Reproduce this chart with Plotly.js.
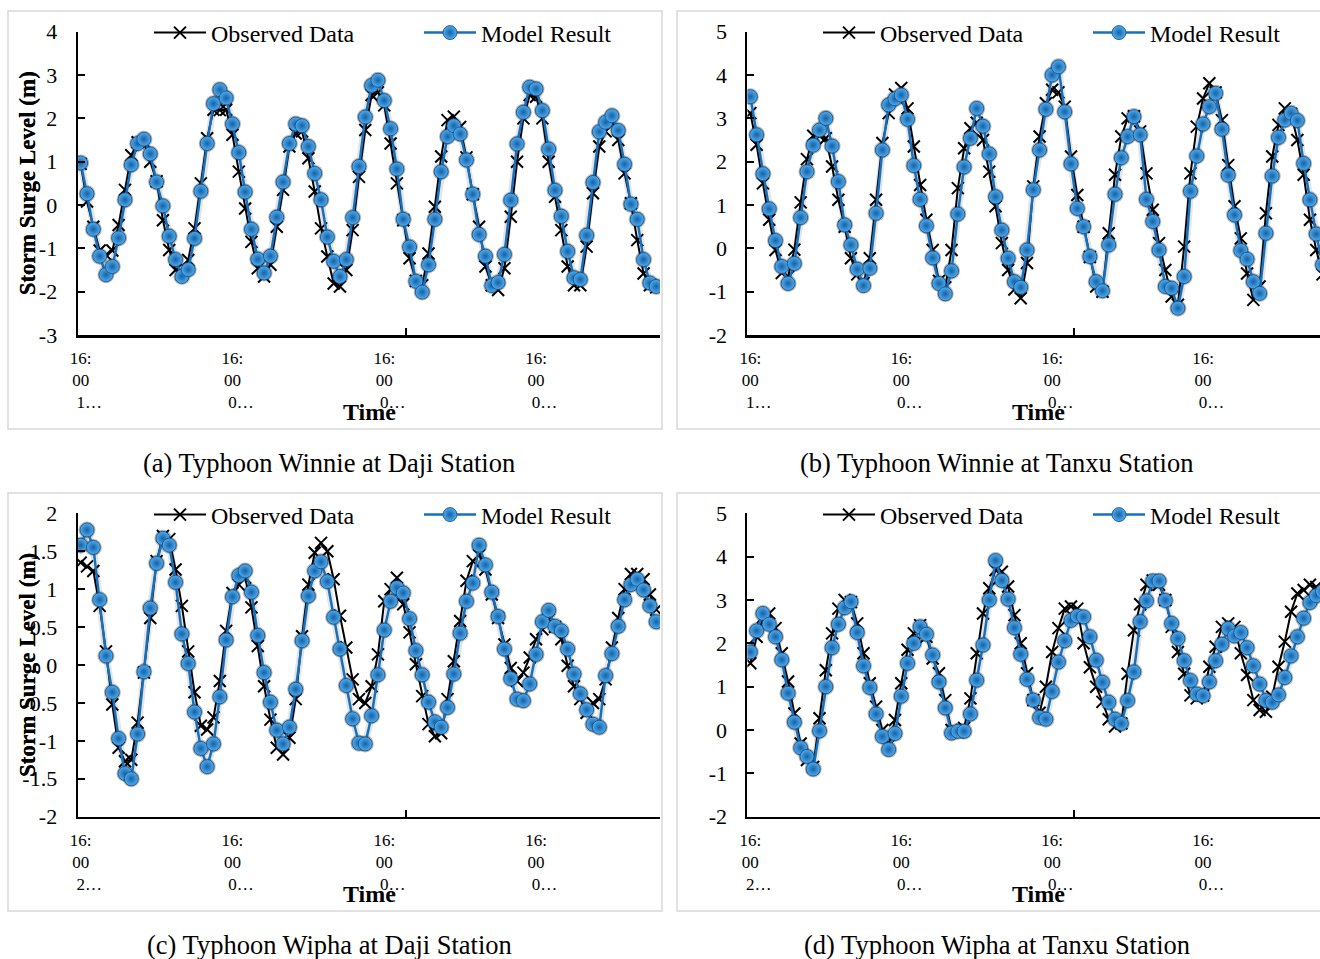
<!DOCTYPE html>
<html>
<head>
<meta charset="utf-8">
<script src="https://cdn.plot.ly/plotly-3.0.1.min.js"></script>
<style>
  html, body { margin: 0; padding: 0; background: #ffffff; overflow: hidden; }
  #chart { width: 1320px; height: 959px; }
</style>
</head>
<body>
<div id="chart"></div>
<script>
// ---------------- DATA (hourly storm surge level, m) ----------------
const seriesNames = ["Observed Data", "Model Result"];

// (a) Typhoon Winnie at Daji Station
const winnieDajiObserved = [
  0.95, 0.08, -0.5, -1.05, -1.15, -1.05, -0.46, 0.35, 1.15, 1.45,
  1.45, 1.0, 0.55, -0.35, -1.04, -1.5, -1.6, -1.27, -0.54, 0.5,
  1.54, 2.2, 2.19, 2.2, 1.62, 0.77, -0.08, -0.85, -1.46, -1.65,
  -1.38, -0.5, 0.35, 1.35, 1.65, 1.7, 1.08, 0.31, -0.54, -1.19,
  -1.81, -1.88, -1.5, -0.58, 0.65, 1.73, 2.54, 2.6, 2.3, 1.42,
  0.5, -0.35, -1.23, -1.75, -1.85, -1.12, -0.04, 1.12, 1.96, 2.04,
  1.8, 1.1, 0.25, -0.5, -1.42, -1.85, -1.96, -1.46, -0.27, 1.0,
  2.0, 2.54, 2.5, 2.0, 1.0, 0.19, -0.58, -1.42, -1.85, -1.85,
  -0.96, 0.27, 1.35, 1.7, 1.95, 1.5, 0.73, 0.04, -0.81, -1.58,
  -1.85, -1.9
];
const winnieDajiModel = [
  0.97, 0.26, -0.56, -1.18, -1.61, -1.42, -0.76, 0.12, 0.93, 1.42,
  1.52, 1.18, 0.53, -0.02, -0.72, -1.26, -1.65, -1.49, -0.77, 0.32,
  1.42, 2.34, 2.66, 2.47, 1.87, 1.21, 0.30, -0.56, -1.25, -1.57,
  -1.18, -0.28, 0.53, 1.42, 1.87, 1.83, 1.35, 0.73, 0.12, -0.74,
  -1.30, -1.65, -1.26, -0.29, 0.89, 2.03, 2.76, 2.88, 2.41, 1.76,
  0.83, -0.33, -0.97, -1.76, -2.01, -1.38, -0.33, 0.77, 1.58, 1.83,
  1.64, 1.04, 0.25, -0.68, -1.18, -1.86, -1.79, -1.14, 0.11, 1.41,
  2.14, 2.72, 2.68, 2.18, 1.29, 0.34, -0.26, -1.07, -1.68, -1.72,
  -0.70, 0.52, 1.69, 1.91, 2.06, 1.72, 0.94, 0.02, -0.33, -1.26,
  -1.80, -1.88
];

// (b) Typhoon Winnie at Tanxu Station
const winnieTanxuObserved = [
  3.12, 2.39, 1.5, 0.66, -0.04, -0.57, -0.65, -0.03, 1.06, 2.06,
  2.6, 2.6, 2.54, 1.89, 1.12, 0.5, -0.23, -0.6, -0.8, -0.23,
  1.12, 2.43, 3.12, 3.55, 3.7, 3.23, 2.35, 1.46, 0.66, -0.04,
  -0.75, -0.9, -0.04, 1.39, 2.31, 2.77, 2.9, 2.5, 1.77, 0.97,
  0.12, -0.5, -0.95, -1.15, -0.34, 1.43, 2.58, 3.35, 3.66, 3.6,
  3.27, 2.12, 1.23, 0.5, -0.2, -0.88, -1.0, 0.35, 1.7, 2.58,
  3.0, 3.05, 2.7, 1.73, 0.89, 0.12, -0.5, -1.11, -1.3, 0.04,
  1.73, 2.81, 3.46, 3.81, 3.6, 2.96, 1.92, 0.97, 0.23, -0.58,
  -1.19, -0.88, 0.81, 2.12, 2.85, 3.23, 3.1, 2.5, 1.7, 0.66,
  -0.04, -0.6
];
const winnieTanxuModel = [
  3.50, 2.62, 1.72, 0.91, 0.18, -0.42, -0.81, -0.35, 0.71, 1.77,
  2.38, 2.73, 3.00, 2.36, 1.54, 0.54, 0.08, -0.48, -0.86, -0.46,
  0.81, 2.27, 3.31, 3.45, 3.54, 2.98, 1.91, 1.13, 0.52, -0.22,
  -0.81, -1.05, -0.52, 0.79, 1.88, 2.54, 3.23, 2.82, 2.18, 1.19,
  0.42, -0.23, -0.77, -0.90, -0.04, 1.35, 2.27, 3.21, 4.00, 4.19,
  3.15, 1.95, 0.92, 0.50, -0.19, -0.77, -0.98, 0.08, 1.25, 2.09,
  2.58, 3.04, 2.62, 1.13, 0.62, -0.04, -0.88, -0.92, -1.38, -0.65,
  1.32, 2.13, 2.87, 3.27, 3.58, 2.75, 1.69, 0.77, -0.05, -0.25,
  -0.77, -1.04, 0.35, 1.67, 2.56, 2.96, 3.12, 2.95, 1.96, 1.12,
  0.33, -0.38
];

// (c) Typhoon Wipha at Daji Station
const wiphaDajiObserved = [
  1.35, 1.3, 1.24, 0.78, 0.18, -0.52, -1.09, -1.27, -1.25, -0.76,
  -0.1, 0.62, 1.37, 1.7, 1.66, 1.26, 0.78, 0.18, -0.36, -0.8,
  -0.85, -0.69, -0.21, 0.45, 0.95, 1.06, 1.15, 0.76, 0.25, -0.28,
  -0.72, -1.09, -1.18, -0.96, -0.45, 0.38, 1.06, 1.48, 1.61, 1.5,
  1.13, 0.65, 0.23, -0.19, -0.45, -0.5, -0.28, 0.14, 0.84, 1.0,
  1.15, 0.8, 0.43, 0.01, -0.41, -0.78, -0.94, -0.9, -0.45, 0.05,
  0.58, 1.11, 1.37, 1.45, 1.26, 0.93, 0.62, 0.27, -0.04, -0.21,
  -0.1, 0.1, 0.34, 0.47, 0.6, 0.5, 0.34, -0.01, -0.28, -0.45,
  -0.63, -0.5, -0.45, -0.19, 0.23, 0.62, 1.0, 1.2, 1.2, 1.13,
  0.93, 0.73
];
const wiphaDajiModel = [
  1.58, 1.78, 1.55, 0.86, 0.12, -0.36, -0.97, -1.43, -1.50, -0.91,
  -0.09, 0.75, 1.34, 1.67, 1.58, 1.09, 0.41, 0.02, -0.62, -1.10,
  -1.34, -1.04, -0.42, 0.33, 0.90, 1.18, 1.24, 0.96, 0.39, -0.10,
  -0.49, -0.86, -1.04, -0.82, -0.32, 0.32, 0.91, 1.24, 1.36, 1.10,
  0.63, 0.21, -0.27, -0.71, -1.03, -1.04, -0.67, -0.13, 0.46, 0.84,
  1.02, 0.95, 0.61, 0.19, -0.13, -0.49, -0.75, -0.82, -0.56, -0.12,
  0.42, 0.84, 1.08, 1.58, 1.32, 0.96, 0.64, 0.21, -0.18, -0.45,
  -0.47, -0.25, 0.14, 0.57, 0.72, 0.51, 0.45, 0.21, -0.12, -0.38,
  -0.59, -0.78, -0.82, -0.14, 0.15, 0.51, 0.86, 1.06, 1.13, 0.99,
  0.78, 0.57
];

// (d) Typhoon Wipha at Tanxu Station
const wiphaTanxuObserved = [
  1.54, 2.15, 2.6, 2.69, 2.35, 1.77, 1.12, 0.38, -0.31, -0.69,
  -0.85, 0.27, 1.38, 2.23, 2.8, 3.0, 2.95, 2.46, 1.77, 1.08,
  0.54, 0.0, -0.35, 0.23, 1.08, 1.85, 2.23, 2.42, 2.15, 1.65,
  1.31, 0.69, 0.0, -0.05, 0.05, 0.73, 1.77, 2.69, 3.27, 3.69,
  3.65, 3.31, 2.65, 2.0, 1.31, 0.69, 0.4, 1.0, 1.8, 2.35,
  2.8, 2.85, 2.8, 2.0, 1.45, 1.0, 0.65, 0.25, 0.08, 0.15,
  1.3, 2.3, 2.9, 3.35, 3.45, 3.35, 3.0, 2.38, 1.8, 1.3,
  0.8, 0.73, 0.8, 1.46, 1.92, 2.38, 2.46, 2.38, 1.77, 1.27,
  0.69, 0.46, 0.42, 0.77, 1.46, 2.04, 2.73, 3.15, 3.23, 3.35,
  3.3, 3.2
];
const wiphaTanxuModel = [
  1.80, 2.29, 2.69, 2.44, 2.15, 1.62, 0.85, 0.18, -0.41, -0.61,
  -0.90, -0.02, 1.00, 1.90, 2.44, 2.82, 2.96, 2.25, 1.48, 0.98,
  0.37, -0.15, -0.45, -0.08, 0.78, 1.54, 2.00, 2.38, 2.21, 1.73,
  1.11, 0.51, -0.07, -0.03, -0.03, 0.37, 1.15, 1.96, 3.00, 3.91,
  3.45, 3.02, 2.36, 1.75, 1.17, 0.69, 0.29, 0.25, 0.89, 1.57,
  2.06, 2.53, 2.63, 2.61, 2.15, 1.61, 1.10, 0.64, 0.25, 0.15,
  0.68, 1.34, 2.50, 2.98, 3.44, 3.44, 2.99, 2.46, 2.11, 1.60,
  1.14, 0.83, 0.79, 1.11, 1.60, 1.98, 2.34, 2.17, 2.25, 1.90,
  1.48, 1.06, 0.68, 0.64, 0.81, 1.21, 1.71, 2.15, 2.58, 2.94,
  3.10, 3.20
];

// category axis tick labels (Excel's truncated date-time labels)
const xTickPositions = [0, 24, 48, 72];
const NB = "\u00a0\u00a0\u00a0\u00a0";
const xTickTextWinnie = ["16:<br>00<br>" + NB + "1…", "16:<br>00<br>" + NB + "0…", "16:<br>00<br>" + NB + "0…", "16:<br>00<br>" + NB + "0…"];
const xTickTextWipha  = ["16:<br>00<br>" + NB + "2…", "16:<br>00<br>" + NB + "0…", "16:<br>00<br>" + NB + "0…", "16:<br>00<br>" + NB + "0…"];
const yTickLabelsA = ["-3", "-2", "-1", "0", "1", "2", "3", "4"];
const yTickLabelsB = ["-2", "-1", "0", "1", "2", "3", "4", "5"];
const yTickLabelsC = ["-2", "-1.5", "-1", "-0.5", "0", "0.5", "1", "1.5", "2"];
const yTickLabelsD = ["-2", "-1", "0", "1", "2", "3", "4", "5"];
const captions = [
  "(a) Typhoon Winnie at Daji Station",
  "(b) Typhoon Winnie at Tanxu Station",
  "(c) Typhoon Wipha at Daji Station",
  "(d) Typhoon Wipha at Tanxu Station"
];
const yTitle = "Storm Surge Level (m)";
const xTitle = "Time";

// ---------------- LAYOUT HELPERS ----------------
const W = 1320, H = 959;
const px = v => v / W;
const py = v => 1 - v / H;
const FONT = "'Liberation Serif', 'Times New Roman', Times, serif";

const panels = [
  {obs: winnieDajiObserved,  mod: winnieDajiModel,  xt: xTickTextWinnie, yt: yTickLabelsA, x0: 77.6,  x1: 660,  top: 31.7,  bot: 335,   xr: [-0.49, 91.6], yr: [-3, 4]},
  {obs: winnieTanxuObserved, mod: winnieTanxuModel, xt: xTickTextWinnie, yt: yTickLabelsB, x0: 747.4, x1: 1320, top: 31.7,  bot: 335,   xr: [-0.47, 90.6], yr: [-2, 5]},
  {obs: wiphaDajiObserved,   mod: wiphaDajiModel,   xt: xTickTextWipha,  yt: yTickLabelsC, x0: 77.6,  x1: 660,  top: 513.3, bot: 816.7, xr: [-0.49, 91.6], yr: [-2, 2]},
  {obs: wiphaTanxuObserved,  mod: wiphaTanxuModel,  xt: xTickTextWipha,  yt: yTickLabelsD, x0: 747.4, x1: 1320, top: 513.3, bot: 816.7, xr: [-0.47, 90.6], yr: [-2, 5]}
];
const frames = [
  {x0: 8, x1: 662, y0: 11, y1: 429},
  {x0: 677, x1: 1335, y0: 11, y1: 429},
  {x0: 8, x1: 662, y0: 493, y1: 911},
  {x0: 677, x1: 1335, y0: 493, y1: 911}
];
const captionPos = [[329, 463], [997, 463], [329, 945], [997, 945]];
const timePos = [[369, 412], [1038, 412], [369, 894], [1038, 894]];
const legendPos = [[154, 33], [823, 33], [154, 515], [823, 515]];

const data = [];
const layout = {
  width: W, height: H,
  margin: {l: 0, r: 0, t: 0, b: 0, pad: 0, autoexpand: false},
  paper_bgcolor: "#ffffff",
  plot_bgcolor: "rgba(0,0,0,0)",
  font: {family: FONT, color: "#000000"},
  showlegend: true,
  shapes: [],
  annotations: []
};

panels.forEach((p, k) => {
  const n = k + 1;
  const xa = n === 1 ? "x" : "x" + n;
  const ya = n === 1 ? "y" : "y" + n;
  const lg = n === 1 ? "legend" : "legend" + n;
  const xs = p.mod.map((_, i) => i);

  // soft shadow under model series (Excel shadow effect)
  data.push({
    x: xs, y: p.mod, xaxis: xa, yaxis: ya, type: "scatter", mode: "lines+markers",
    line: {color: "rgba(0,0,0,0.10)", width: 7},
    marker: {size: 17, color: "rgba(0,0,0,0.28)"},
    showlegend: false, hoverinfo: "skip"
  });
  data.push({
    name: seriesNames[0], legend: lg,
    x: xs, y: p.obs, xaxis: xa, yaxis: ya, type: "scatter", mode: "lines+markers",
    line: {color: "#000000", width: 2},
    marker: {symbol: "x-thin", size: 12, color: "#000000", line: {width: 2, color: "#000000"}}
  });
  data.push({
    name: seriesNames[1], legend: lg,
    x: xs, y: p.mod, xaxis: xa, yaxis: ya, type: "scatter", mode: "lines+markers",
    line: {color: "#1670bd", width: 2.5},
    marker: {size: 14, color: "#52acee", gradient: {type: "radial", color: "#1462a6"},
             line: {width: 0.8, color: "#0c4a82"}}
  });

  layout[n === 1 ? "xaxis" : "xaxis" + n] = {
    domain: [px(p.x0), px(p.x1)], anchor: ya, range: p.xr,
    showline: true, linecolor: "#000000", linewidth: 2.5, showgrid: false, zeroline: false,
    tickmode: "array", tickvals: xTickPositions, ticktext: p.xt, ticks: "", tickangle: 0,
    tickfont: {family: FONT, size: 17, color: "#000000"}, ticklabelstandoff: 6,
    minor: {tickmode: "array", tickvals: [51.5], ticks: "inside", ticklen: 7, tickwidth: 2, tickcolor: "#000000"},
    fixedrange: true
  };
  layout[n === 1 ? "yaxis" : "yaxis" + n] = {
    domain: [py(p.bot), py(p.top)], anchor: xa, range: p.yr,
    showline: true, linecolor: "#000000", linewidth: 2, showgrid: false, zeroline: false,
    tickmode: "array", tickvals: p.yt.map(Number), ticktext: p.yt,
    ticks: "inside", ticklen: 7, tickwidth: 2, tickcolor: "#000000",
    tickfont: {family: FONT, size: 22, color: "#000000"}, ticklabelstandoff: 14,
    fixedrange: true
  };
  layout[lg] = {
    orientation: "h", x: px(legendPos[k][0] - 5), y: py(legendPos[k][1]), xanchor: "left", yanchor: "middle",
    font: {family: FONT, size: 24, color: "#000000"}, bgcolor: "rgba(0,0,0,0)",
    itemwidth: 52, entrywidthmode: "pixels", entrywidth: 203, traceorder: "normal"
  };

  const f = frames[k];
  layout.shapes.push({type: "rect", xref: "paper", yref: "paper",
    x0: px(f.x0), x1: px(f.x1), y0: py(f.y1), y1: py(f.y0),
    line: {color: "#d9d9d9", width: 1.5}, fillcolor: "rgba(0,0,0,0)", layer: "below"});

  layout.annotations.push({
    text: "<b>" + yTitle + "</b>", textangle: -90, xref: "paper", yref: "paper",
    x: px(27), y: py((p.top + p.bot) / 2), xanchor: "center", yanchor: "middle", showarrow: false,
    font: {family: FONT, size: 23, color: "#000000"}
  });
  layout.annotations.push({
    text: "<b>" + xTitle + "</b>", xref: "paper", yref: "paper",
    x: px(timePos[k][0]), y: py(timePos[k][1]), xanchor: "center", yanchor: "middle", showarrow: false,
    font: {family: FONT, size: 24, color: "#000000"}
  });
  layout.annotations.push({
    text: captions[k], xref: "paper", yref: "paper",
    x: px(captionPos[k][0]), y: py(captionPos[k][1]), xanchor: "center", yanchor: "middle", showarrow: false,
    font: {family: FONT, size: 26.5, color: "#000000"}
  });
});

Plotly.newPlot("chart", data, layout, {displayModeBar: false, staticPlot: true});
</script>
</body>
</html>
